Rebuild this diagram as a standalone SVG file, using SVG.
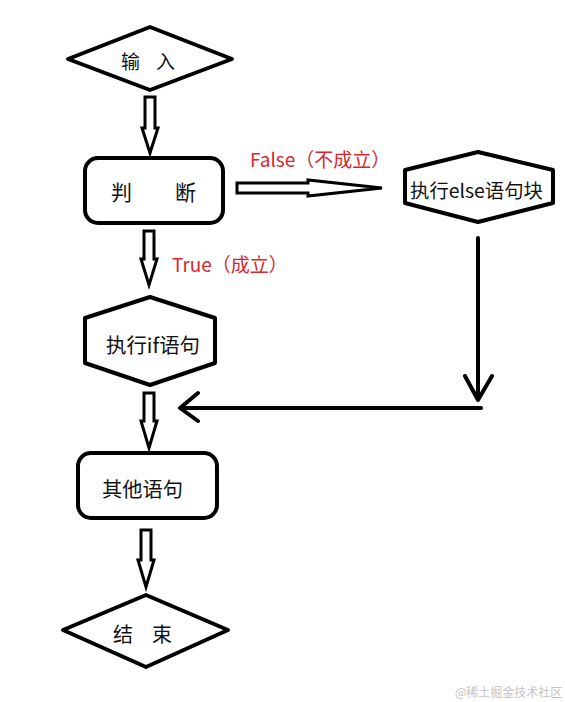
<svg xmlns="http://www.w3.org/2000/svg" width="565" height="702" viewBox="0 0 565 702">
<style>
.shape{fill:#fff;stroke:#000;stroke-width:4;stroke-linejoin:round}
.hollow{fill:#fff;stroke:#000;stroke-width:3;stroke-linejoin:miter}
.line{fill:none;stroke:#000;stroke-width:4;stroke-linecap:round;stroke-linejoin:round}
.t{font-family:"Noto Sans CJK SC","Noto Sans",sans-serif;fill:#111;dominant-baseline:central}
.red{font-family:"Noto Sans CJK SC","Noto Sans",sans-serif;fill:#d9262c;font-size:19px;dominant-baseline:central}
</style>
<rect width="565" height="702" fill="#fff"/>
<g id="connectors">
<polygon class="hollow" points="145,97 155,97 155,128 158,128 150,153 142,128 145,128"/>
<polygon class="hollow" points="237,183 308,183 308,180 382,188 308,196 308,193 237,193"/>
<polygon class="hollow" points="144,231 154,231 154,259 157,259 149,285 141,259 144,259"/>
<polygon class="hollow" points="144,393 154,393 154,421 157,421 149,448 141,421 144,421"/>
<polygon class="hollow" points="141,530 151,530 151,560 154,560 146,587 138,560 141,560"/>
<path class="line" d="M478,238 V400 M465,376 L478,400 L492,376"/>
<path class="line" d="M481,408 H180 M198,393 L180,408 L198,421"/>
<text class="red" x="250" y="158">False（不成立）</text>
<text class="red" x="172" y="263">True（成立）</text>
</g>
<g id="input">
<polygon class="shape" points="68,59 150,27 232,59 150,90"/>
<text class="t" x="121" y="60" font-size="19">输</text>
<text class="t" x="156" y="60" font-size="19">入</text>
</g>
<g id="judge">
<rect class="shape" x="85" y="158" width="138" height="65" rx="13"/>
<text class="t" x="111" y="191" font-size="21">判</text>
<text class="t" x="175" y="191" font-size="21">断</text>
</g>
<g id="else">
<polygon class="shape" points="478,152 553,170 553,203 478,222 405,203 405,170"/>
<text class="t" x="410" y="189" font-size="19" textLength="133" lengthAdjust="spacingAndGlyphs">执行else语句块</text>
</g>
<g id="if">
<polygon class="shape" points="150,297 215,318 215,363 150,385 85,363 85,318"/>
<text class="t" x="106" y="344" font-size="20" textLength="94" lengthAdjust="spacingAndGlyphs">执行if语句</text>
</g>
<g id="other">
<rect class="shape" x="78" y="453" width="139" height="65" rx="13"/>
<text class="t" x="102" y="488" font-size="20" textLength="81" lengthAdjust="spacingAndGlyphs">其他语句</text>
</g>
<g id="end">
<polygon class="shape" points="63,630 146,595 228,630 146,667"/>
<text class="t" x="113" y="633" font-size="20">结</text>
<text class="t" x="152" y="633" font-size="20">束</text>
</g>
<text x="455" y="691" font-family="'Noto Sans CJK SC',sans-serif" font-size="12" fill="#c4c4c4" dominant-baseline="central">@稀土掘金技术社区</text>
</svg>
